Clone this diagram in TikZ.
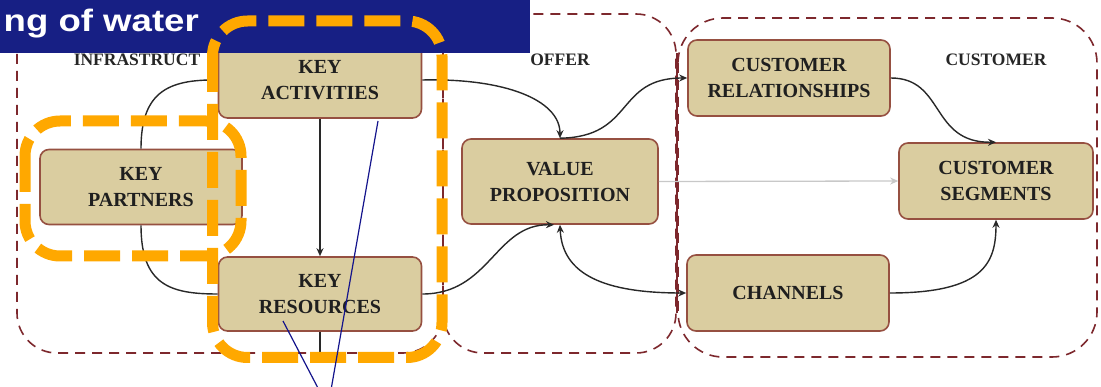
\documentclass[tikz,border=0pt]{standalone}
\usepackage{fontspec}
\setmainfont{Liberation Serif}
\newfontfamily\bannerfont{Liberation Sans}
\usetikzlibrary{arrows.meta}
\definecolor{navy}{RGB}{23,31,132}
\definecolor{tanfill}{RGB}{218,205,160}
\definecolor{boxedge}{RGB}{150,80,65}
\definecolor{framered}{RGB}{125,40,45}
\definecolor{orng}{RGB}{255,168,0}
\definecolor{connc}{RGB}{40,40,40}
\definecolor{lgray}{RGB}{200,200,200}
\definecolor{bluel}{RGB}{20,20,140}
\begin{document}
\begin{tikzpicture}[x=1pt,y=-1pt,
  bizbox/.style={draw=boxedge, line width=1.6pt, fill=tanfill, rounded corners=9pt,
    font=\bfseries\fontsize{20}{26}\selectfont, align=center, inner sep=0pt, text=black!88},
  frame/.style={draw=framered, line width=1.6pt, dash pattern=on 10pt off 7pt, rounded corners=40pt},
  hl/.style={draw=orng, line width=11pt, dash pattern=on 36pt off 12pt, rounded corners=35pt},
  conn/.style={draw=connc, line width=1.4pt},
  arr/.style={-{Stealth[length=8pt,width=7pt]}},
  barr/.style={{Stealth[length=8pt,width=7pt]}-{Stealth[length=8pt,width=7pt]}},
  region/.style={font=\bfseries\fontsize{17.5}{20}\selectfont, text=black!85, inner sep=0pt},
  pointer/.style={draw=bluel, line width=1.2pt}]
\useasboundingbox (0,0) rectangle (1101,387);
\fill[white] (0,0) rectangle (1101,387);

% dashed frames
\draw[frame] (17,14) rectangle (443,353);
\draw[frame] (443,14) rectangle (676,353);
\draw[frame, rounded corners=45pt] (678,18) rectangle (1097,357);
\draw[framered, line width=1.6pt] (677,53) -- (677,313);

% region labels
\node[region] (linfra) at (137,59.5) {INFRASTRUCT};
\node[region] (loffer) at (560,59.5) {OFFER};
\node[region] (lcust) at (996,59.5) {CUSTOMER};

% boxes
\node[bizbox, minimum width=203pt, minimum height=76pt] (KA) at (320,80) {KEY\\ACTIVITIES};
\node[bizbox, minimum width=202pt, minimum height=75pt] (KP) at (141,187) {KEY\\PARTNERS};
\node[bizbox, minimum width=203pt, minimum height=74pt] (KR) at (320,294) {KEY\\RESOURCES};
\node[bizbox, minimum width=196pt, minimum height=85pt] (VP) at (560,181.5) {VALUE\\PROPOSITION};
\node[bizbox, minimum width=202pt, minimum height=76pt] (CR) at (789,78) {CUSTOMER\\RELATIONSHIPS};
\node[bizbox, minimum width=194pt, minimum height=76pt] (CS) at (996,181) {CUSTOMER\\SEGMENTS};
\node[bizbox, minimum width=202pt, minimum height=76pt] (CH) at (788,293) {CHANNELS};

% connectors
\draw[conn, arr] (KP.north) .. controls (141,95) and (165,80) .. (KA.west);
\draw[conn] (KP.south) .. controls (141,285) and (170,294) .. (KR.west);
\draw[conn, arr] (KA.south) -- (KR.north);
\draw[conn, arr] (KA.east) .. controls (505,78) and (560,100) .. (VP.north);
\draw[conn, arr] (VP.north) .. controls (635,137) and (615,78) .. (CR.west);
\draw[conn, arr] (KR.east) .. controls (490,294) and (495,224) .. ([xshift=-6pt]VP.south);
\draw[conn, barr] (VP.south) .. controls (562,275) and (605,293) .. (CH.west);
\draw[conn, arr] (CR.east) .. controls (945,78) and (930,143) .. (CS.north);
\draw[conn, arr] (CH.east) .. controls (985,293) and (996,262) .. (CS.south);
\draw[draw=lgray, line width=1.3pt, -{Stealth[length=8pt,width=7pt]}] (VP.east) -- (CS.west);
\coordinate (krend) at (320,352);
\draw[conn] (KR.south) -- (krend);

% banner
\fill[navy] (0,0) rectangle (530,53);
\node[anchor=base east, text=white, inner sep=0pt,
  font=\bannerfont\bfseries\fontsize{31}{36}\selectfont] (banner) at (199,32)
  {\scalebox{1.18}[1]{ng of water}};

% orange highlights
\draw[hl] (212.5,21) rectangle (442,357.5);
\draw[hl] (25,121) rectangle (241,256);

% pointer lines
\coordinate (p1a) at (378,121);
\coordinate (p1b) at (331,390);
\coordinate (p2a) at (283,321);
\coordinate (p2b) at (319,390);
\draw[pointer] (p1a) -- (p1b);
\draw[pointer] (p2a) -- (p2b);
\end{tikzpicture}
\end{document}
